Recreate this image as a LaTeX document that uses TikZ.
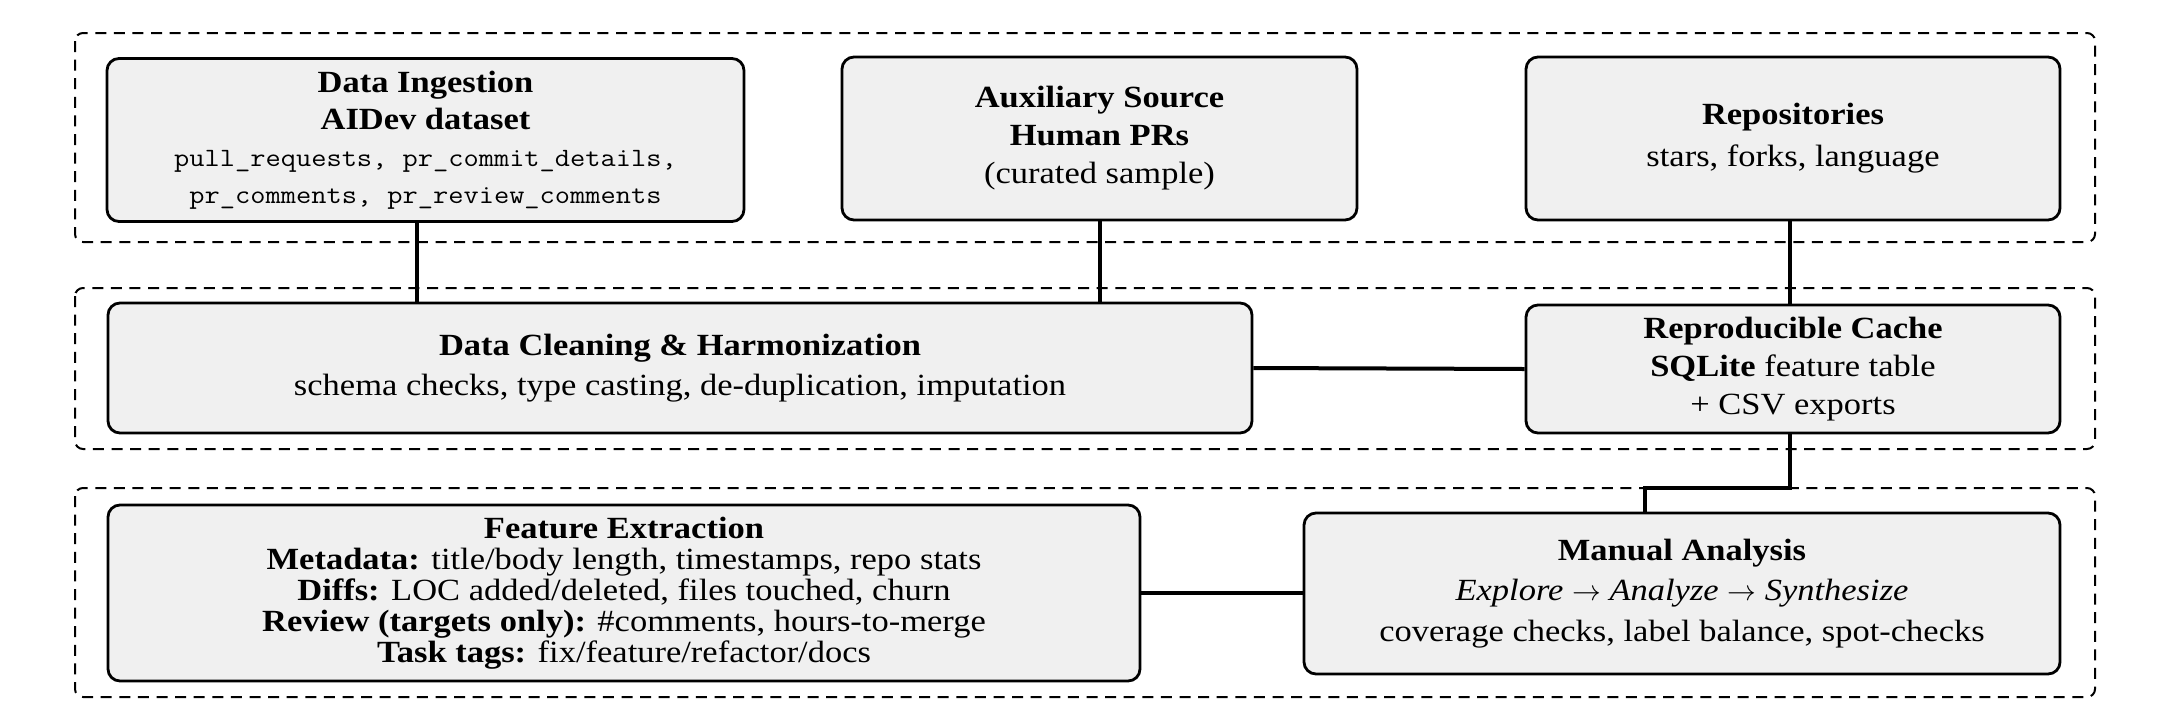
\documentclass[tikz,border=0pt]{standalone}
\usepackage{fontspec}
\setmainfont{Liberation Serif}[FakeStretch=1.12]
\setmonofont{Latin Modern Mono}[FakeStretch=1.12]
\usetikzlibrary{calc}
\tikzset{
  grp/.style={draw, line width=1pt, dash pattern=on 5.5pt off 3.8pt, rounded corners=4pt},
  box/.style={draw, line width=1.4pt, fill=black!6, rounded corners=6pt, inner sep=0pt, align=center,
    font=\fontsize{15.4}{19}\selectfont},
  conn/.style={line width=2pt},
}
\newcommand{\mytt}[1]{{\fontsize{13.2}{18}\selectfont\ttfamily #1}}
\begin{document}
\begin{tikzpicture}[x=0.5pt,y=-0.5pt]
\useasboundingbox (0,0) rectangle (2172,724);
% groups
\draw[grp] (75,33) rectangle (2095,242);
\draw[grp] (75,288) rectangle (2095,449);
\draw[grp] (75,488) rectangle (2095,697);
% nodes
\node[box, minimum width=318.5pt, minimum height=81.5pt, font=\fontsize{15.4}{18.5}\selectfont] (ing) at (425.5,140)
  {\textbf{Data Ingestion}\\ \textbf{AIDev dataset}\\ \mytt{pull\_requests, pr\_commit\_details,}\\ \mytt{pr\_comments, pr\_review\_comments}};
\node[box, minimum width=257.5pt, minimum height=81.5pt] (aux) at (1099.5,138.5)
  {\textbf{Auxiliary Source}\\ \textbf{Human PRs}\\ (curated sample)};
\node[box, minimum width=267pt, minimum height=81.5pt, font=\fontsize{15.4}{21}\selectfont] (repo) at (1793,138.5)
  {\textbf{Repositories}\\ stars, forks, language};
\node[box, minimum width=572pt, minimum height=65pt, font=\fontsize{15.4}{20}\selectfont] (clean) at (680,368)
  {\textbf{Data Cleaning \& Harmonization}\\ schema checks, type casting, de-duplication, imputation};
\node[box, minimum width=267pt, minimum height=64pt] (cache) at (1793,369)
  {\textbf{Reproducible Cache}\\ \textbf{SQLite} feature table\\ + CSV exports};
\node[box, minimum width=516pt, minimum height=88pt, font=\fontsize{15.4}{15.5}\selectfont] (feat) at (624,593)
  {\textbf{Feature Extraction}\\ \textbf{Metadata:} title/body length, timestamps, repo stats\\
   \textbf{Diffs:} LOC added/deleted, files touched, churn\\
   \textbf{Review (targets only):} \#comments, hours-to-merge\\
   \textbf{Task tags:} fix/feature/refactor/docs};
\node[box, minimum width=378pt, minimum height=80.5pt, font=\fontsize{15.4}{20.3}\selectfont] (man) at (1682,593.5)
  {\textbf{Manual Analysis}\\ \textit{Explore} $\rightarrow$ \textit{Analyze} $\rightarrow$ \textit{Synthesize}\\
   coverage checks, label balance, spot-checks};
% connectors
\coordinate (elb) at (1790,488);
\draw[conn] ([xshift=-4.25pt]ing.south) -- ([xshift=-4.25pt]ing.south |- clean.north);
\draw[conn] (aux.south) -- (aux.south |- clean.north);
\draw[conn] ([xshift=-1.5pt]repo.south) -- ([xshift=-1.5pt]cache.north);
\draw[conn] (clean.east) -- (cache.west);
\draw[conn] ([xshift=-1.5pt]cache.south) -- ([xshift=-1.5pt]cache.south |- elb) -| ([xshift=-18.5pt]man.north);
\draw[conn] (feat.east) -- (feat.east -| man.west);
\end{tikzpicture}
\end{document}
